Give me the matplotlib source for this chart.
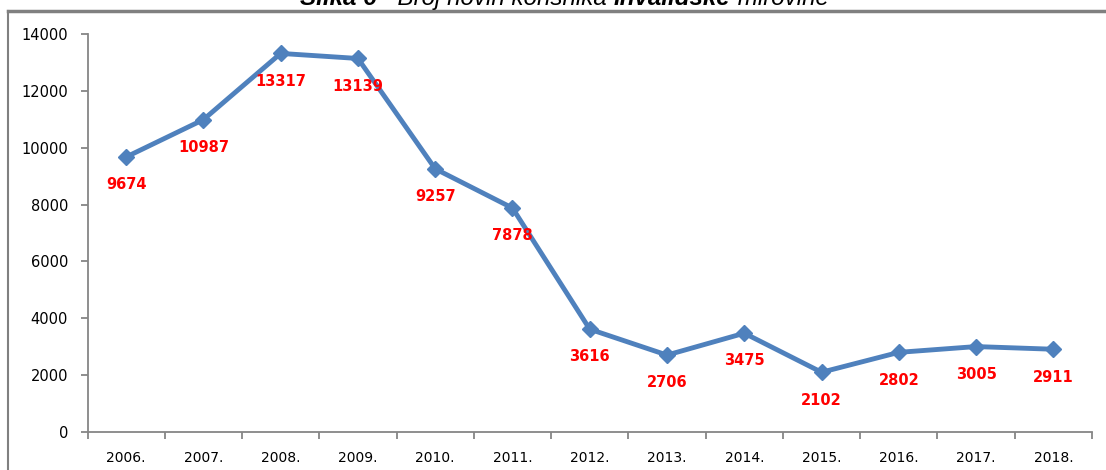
import numpy as np
import matplotlib.pyplot as plt
from matplotlib.lines import Line2D

# data
years = ['2006.', '2007.', '2008.', '2009.', '2010.', '2011.', '2012.',
         '2013.', '2014.', '2015.', '2016.', '2017.', '2018.']
users = [9674, 10987, 13317, 13139, 9257, 7878, 3616,
         2706, 3475, 2102, 2802, 3005, 2911]

W, H = 1106, 470
fig = plt.figure(figsize=(W / 100, H / 100), dpi=100)
ax = fig.add_axes([87.5 / W, 38 / H, (1092 - 87.5) / W, (432 - 34) / H])

x = np.arange(len(years))
ax.plot(x, users, color='#4F81BD', lw=3.5, marker='D', markersize=8.5,
        markeredgecolor='#4F81BD', solid_joinstyle='round')

for xi, v in zip(x, users):
    ax.annotate(str(v), (xi, v), xytext=(0, -20), textcoords='offset points',
                ha='center', va='center', color='#FF0000', fontsize=10.5,
                fontweight='bold')

ax.set_xlim(-0.5, len(years) - 0.5)
ax.set_ylim(0, 14000)
ax.set_yticks(np.arange(0, 14001, 2000))
ax.set_xticks(x)
ax.set_xticklabels(years)
ax.set_xticks(np.arange(-0.5, len(years), 1), minor=True)
ax.tick_params(axis='x', which='major', length=0, pad=14, labelsize=10)
ax.tick_params(axis='x', which='minor', length=5, color='#868686', width=1.3)
ax.tick_params(axis='y', length=5, color='#868686', width=1.3, pad=9,
               labelsize=10.5)

for side in ['top', 'right']:
    ax.spines[side].set_visible(False)
for side in ['left', 'bottom']:
    ax.spines[side].set_color('#868686')
    ax.spines[side].set_linewidth(1.3)

# frame of the text box around the figure
fig.add_artist(Line2D([8 / W, 1], [1 - 11 / H, 1 - 11 / H], color='#808080',
                      lw=2.5, transform=fig.transFigure))
fig.add_artist(Line2D([8 / W, 8 / W], [0, 1 - 11 / H], color='#808080',
                      lw=1.5, transform=fig.transFigure))

# title, partly cut by the top edge as in the source page
parts = [('Slika 6', 'bold'), (' - Broj novih korisnika ', 'normal'),
         ('invalidske', 'bold'), (' mirovine', 'normal')]
fig.canvas.draw()
renderer = fig.canvas.get_renderer()
xpos = 300
for txt, wt in parts:
    t = fig.text(xpos / W, 1 - 5 / H, txt, fontsize=17.4, style='italic',
                 fontweight=wt, family='Liberation Sans', va='baseline',
                 ha='left')
    bb = t.get_window_extent(renderer=renderer)
    xpos += bb.width

fig.savefig('out.png', dpi=100)
